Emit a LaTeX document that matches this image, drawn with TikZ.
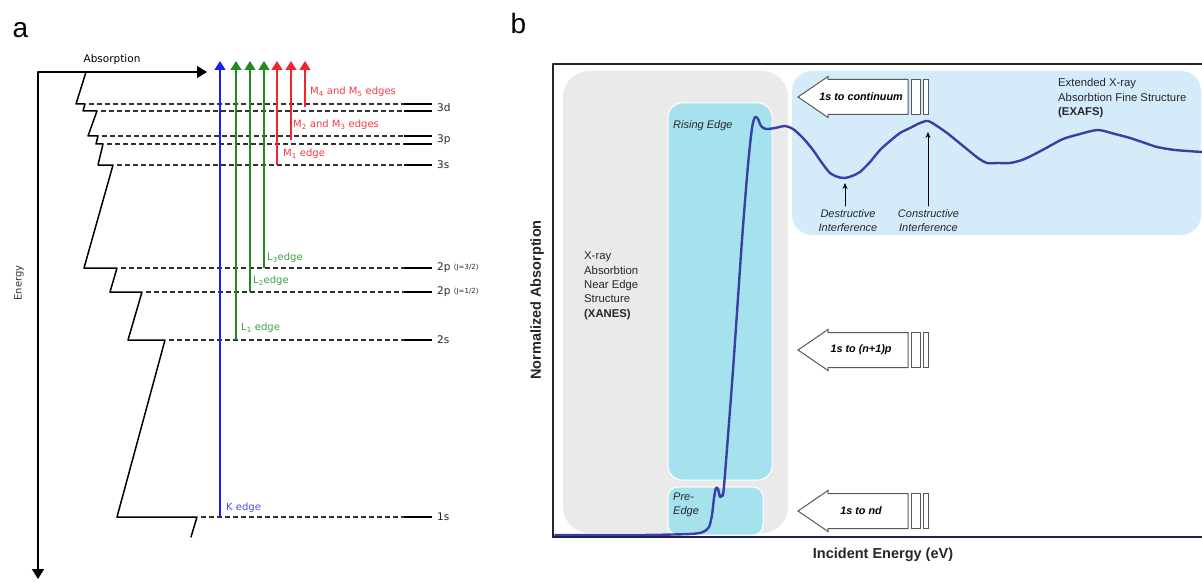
\documentclass[tikz,border=0pt]{standalone}
\usepackage{fontspec}
\setmainfont{Liberation Sans}
\newfontfamily\dejavu{DejaVu Sans}
\usetikzlibrary{arrows.meta}
\definecolor{kblue}{RGB}{30,30,235}
\definecolor{lgreen}{RGB}{30,140,30}
\definecolor{mred}{RGB}{245,35,45}
\definecolor{xanesgray}{RGB}{234,234,234}
\definecolor{edgecyan}{RGB}{166,226,238}
\definecolor{exafsblue}{RGB}{212,236,250}
\definecolor{spectrum}{RGB}{58,62,165}
\definecolor{framenavy}{RGB}{30,30,70}
\newcommand{\transarrow}[3]{% name, height, text
  \draw[transbox] (798,#2) -- ++(30,-20.5) -- ++(0,3) -- ++(80,0) -- ++(0,35) -- ++(-80,0) -- ++(0,3) -- cycle;
  \draw[transbox] (911.5,#2-17.5) rectangle (920,#2+17.5);
  \draw[transbox] (923.5,#2-17.5) rectangle (928,#2+17.5);
  \node[transtext] (#1) at (861,#2) {#3};
}

\begin{document}
\begin{tikzpicture}[line cap=round,line join=round,x=1pt,y=-1pt,
  >={Triangle[width=11pt,length=9pt]},
  lvl/.style={line width=2.2pt,line cap=butt},
  lvldash/.style={line width=1.2pt,line cap=butt,dash pattern=on 5pt off 3pt,black!80},
  edgearrow/.style={->,line width=1.5pt,line cap=butt},
  edgelabel/.style={font=\dejavu\fontsize{10}{12}\selectfont,anchor=west,inner sep=0pt},
  lvllabel/.style={font=\dejavu\fontsize{10.5}{12}\selectfont,anchor=west,inner sep=0pt,text=black!85},
  transbox/.style={draw=black!65,fill=white,line width=1pt,line cap=butt,line join=miter},
  transtext/.style={font=\fontsize{10.8}{13}\selectfont\bfseries\itshape,inner sep=0pt},
  paneltext/.style={font=\fontsize{11.3}{14.3}\selectfont,align=left,inner sep=0pt,text=black!85},
  interf/.style={font=\fontsize{11}{14}\selectfont\itshape,align=center,inner sep=0pt,text=black!85}]
\useasboundingbox (0,0) rectangle (1202,583);

% ---------------- panel a ----------------
\node[font=\fontsize{28}{30}\selectfont,anchor=base] (lbla) at (20.5,38) {a};
\draw[<->,line width=1.5pt,line cap=butt,>={Triangle[width=12pt,length=10pt]}] (38,579) -- (38,72) -- (207,72);
\node[font=\dejavu\fontsize{10.5}{12}\selectfont] (absorp) at (112,60) {Absorption};
\node[font=\dejavu\fontsize{10}{12}\selectfont,rotate=90,text=black!80] (energy) at (19,283) {Energy};

% staircase
\draw[line width=1.5pt] (86,72) -- (76,104) -- (85,104) -- (83,111) -- (97,111) -- (88,136) -- (98,136)
  -- (96,144) -- (103,144) -- (98,165) -- (113,165) -- (84,268) -- (117,268) -- (110,292) -- (142,292)
  -- (128,340) -- (165,340) -- (117,517) -- (197,517) -- (191,537);

% levels
\foreach \y/\xs in {104/85,111/97,136/98,144/103,165/113,268/117,292/142,340/165,517/197}{
  \draw[lvldash] (\xs+4,\y) -- (404,\y);
  \draw[lvl] (404,\y) -- (432,\y);
}
\node[lvllabel] (l3d) at (437,108) {3d};
\node[lvllabel] (l3p) at (437,140) {3p};
\node[lvllabel] (l3s) at (437,165) {3s};
\node[lvllabel] (l2p3) at (437,268) {2p \raisebox{1pt}{\fontsize{7}{8}\selectfont (J=3/2)}};
\node[lvllabel] (l2p1) at (437,292) {2p \raisebox{1pt}{\fontsize{7}{8}\selectfont (J=1/2)}};
\node[lvllabel] (l2s) at (437,340) {2s};
\node[lvllabel] (l1s) at (437,517) {1s};

% absorption edges
\foreach \x/\y/\c in {220/517/kblue,236/340/lgreen,250/292/lgreen,264/268/lgreen,277/165/mred,291/140/mred,305/107/mred}{
  \draw[edgearrow,\c] (\x,\y) -- (\x,61);
}
\node[edgelabel,text=kblue!80] (kedge) at (226,508) {K edge};
\node[edgelabel,text=lgreen!85] (l1edge) at (241,328) {L\textsubscript{1} edge};
\node[edgelabel,text=lgreen!85] (l2edge) at (253,281) {L\textsubscript{2}edge};
\node[edgelabel,text=lgreen!85] (l3edge) at (267,258) {L\textsubscript{3}edge};
\node[edgelabel,text=mred!90] (m1edge) at (283,154) {M\textsubscript{1} edge};
\node[edgelabel,text=mred!90] (m23edge) at (293,125) {M\textsubscript{2} and M\textsubscript{3} edges};
\node[edgelabel,text=mred!90] (m45edge) at (310,92) {M\textsubscript{4} and M\textsubscript{5} edges};

% ---------------- panel b ----------------
\node[font=\fontsize{28}{30}\selectfont,anchor=base] (lblb) at (518.5,34) {b};

% regions
\fill[xanesgray,rounded corners=26pt] (563,71) rectangle (788,533);
\fill[exafsblue,rounded corners=20pt] (792,71) rectangle (1201,235);
\filldraw[fill=edgecyan,draw=white,line width=1pt,rounded corners=14pt] (668,103) rectangle (772,480);
\filldraw[fill=edgecyan,draw=white,line width=1pt,rounded corners=10pt] (668,487) rectangle (763,535);

\node[paneltext,anchor=north west] (xanes) at (584,252) {X-ray\\Absorbtion\\Near Edge\\Structure\\\textbf{(XANES)}};
\node[paneltext,anchor=north west] (exafs) at (1058,78.5) {Extended X-ray\\Absorbtion Fine Structure\\\textbf{(EXAFS)}};
\node[paneltext,font=\fontsize{11}{14}\selectfont\itshape,anchor=west] (rising) at (673,126) {Rising Edge};
\node[paneltext,font=\fontsize{11}{14}\selectfont\itshape,anchor=north west] (preedge) at (673,493) {Pre-\\Edge};

% transitions
\transarrow{cont}{97}{1s to continuum}
\transarrow{np}{350}{1s to (n+1)p}
\transarrow{nd}{511}{1s to nd}

% spectrum
\draw[spectrum,line width=2.4pt] plot[smooth,tension=0.45] coordinates {
  (555,535) (640,535) (690,534) (703,532) (709,527) (712,515) (714,498) (716,488) (718,489) (720,497)
  (722,495) (724,486) (733,370) (742,240) (748,165) (752,128) (755,117) (758,119) (761,126) (766,129)
  (775,128) (785,126) (793,129) (803,138) (813,150) (822,163) (830,173) (838,177) (845,178) (852,176)
  (860,172) (870,162) (880,150) (890,141) (900,133) (910,128) (920,123) (928,121) (937,126) (947,133)
  (957,141) (968,150) (978,158) (987,163) (998,163) (1010,163) (1022,160) (1033,155) (1048,147)
  (1063,139) (1080,134) (1098,130) (1115,134) (1130,138) (1145,143) (1157,147) (1175,150) (1202,152)};

% interference markers
\node[interf,anchor=north] (destr) at (848,209) {Destructive\\Interference};
\node[interf,anchor=north] (constr) at (928.5,209) {Constructive\\Interference};
\coordinate (destrmin) at (845,183);
\coordinate (constrmax) at (928,132);
\draw[->,line width=0.8pt,>={Stealth[width=5pt,length=6pt]}] (destr.north -| destrmin) ++(0,-3) -- (destrmin);
\draw[->,line width=0.8pt,>={Stealth[width=5pt,length=6pt]}] (constr.north -| constrmax) ++(0,-3) -- (constrmax);

% frame and axis labels
\draw[line width=2pt,black!85,line cap=butt] (553,537) -- (553,64) -- (1202,64);
\draw[line width=2pt,framenavy,line cap=butt] (552,537) -- (1202,537);
\node[font=\fontsize{14.5}{16}\selectfont\bfseries,rotate=90,text=black!85] (ylab) at (537,300) {Normalized Absorption};
\node[font=\fontsize{14.5}{16}\selectfont\bfseries,text=black!85] (xlab) at (883,555) {Incident Energy (eV)};
\end{tikzpicture}
\end{document}
